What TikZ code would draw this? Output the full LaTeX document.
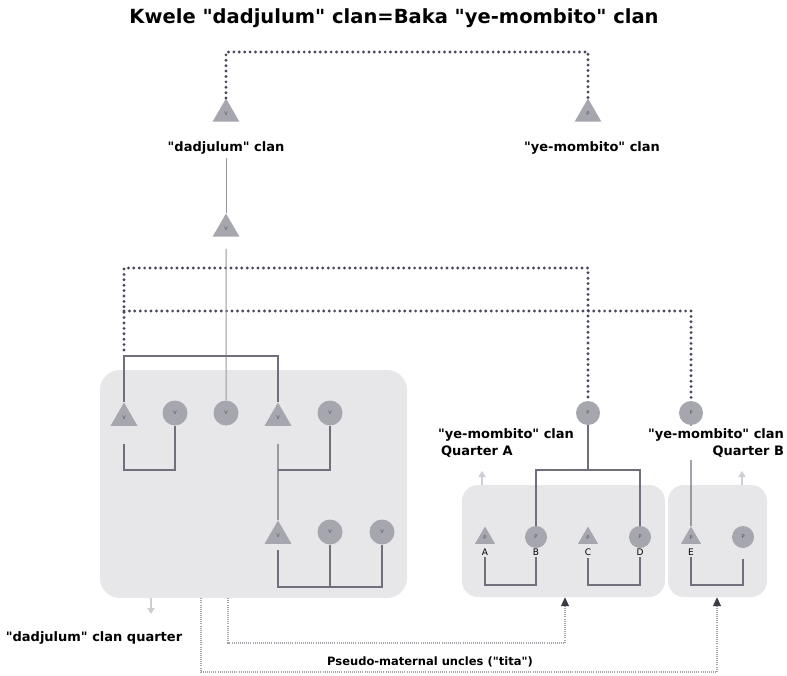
\documentclass[tikz,border=0pt]{standalone}
\usepackage{fontspec}
\setmainfont{DejaVu Sans}
\newfontfamily\labelfont{DejaVu Sans}
\usepackage{tikz}
\definecolor{boxgray}{RGB}{231, 231, 234}
\definecolor{nodegray}{RGB}{166, 166, 174}
\definecolor{linegray}{RGB}{112, 112, 124}
\definecolor{stemgray}{RGB}{150, 150, 160}
\definecolor{dotgray}{RGB}{72, 72, 92}
\definecolor{titagray}{RGB}{165, 165, 172}
\definecolor{ghost}{RGB}{205, 205, 212}
\definecolor{tipdark}{RGB}{60, 60, 70}
\definecolor{lettergray}{RGB}{80, 80, 90}
\usetikzlibrary{positioning}
\usetikzlibrary{shapes.geometric}
\usetikzlibrary{arrows.meta}

\begin{document}
\begin{tikzpicture}
		[x=1pt, y=-1pt, every node/.style={inner sep=0pt},
		 quarter/.style={fill=boxgray, rounded corners=20pt},
		 tri/.style={regular polygon, regular polygon sides=3, minimum size=31pt, fill=nodegray, text=lettergray, font=\labelfont\fontsize{5}{5}\selectfont},
		 ind/.style={circle, minimum size=25pt, fill=nodegray, text=lettergray, font=\labelfont\fontsize{5}{5}\selectfont},
		 lab/.style={fill=white, inner sep=3pt, font=\labelfont\fontsize{13}{17}\selectfont\bfseries},
		 letter/.style={inner sep=2pt, font=\labelfont\fontsize{9}{9}\selectfont},
		 kin/.style={line width=1.1pt, color=linegray},
		 stem/.style={line width=1pt, color=stemgray},
		 clanlink/.style={line width=3.2pt, color=dotgray, line cap=round, dash pattern=on 0pt off 5.4pt},
		 tita/.style={line width=1.2pt, color=titagray, dash pattern=on 1pt off 1.1pt, -{Triangle[width=8pt, length=9pt, color=tipdark]}},
		 ghostarrow/.style={line width=2pt, color=ghost, -{Triangle[width=7pt, length=6pt]}}]
		\useasboundingbox (0, 0) rectangle (787, 676);
		% levels
		\coordinate (ytop) at (0, 52);
		\coordinate (yup) at (0, 268);
		\coordinate (ylo) at (0, 311);
		\coordinate (yA) at (0, 356);
		\coordinate (yB) at (0, 470);
		\coordinate (yC) at (0, 587);
		\coordinate (ybot) at (0, 585);
		\coordinate (ldl) at (124, 350);
		% quarters
		\node (q1) [quarter, minimum width=307pt, minimum height=228pt] at (253.5, 484) {};
		\node (q2) [quarter, minimum width=203pt, minimum height=112pt, rounded corners=16pt] at (563.5, 541) {};
		\node (q3) [quarter, minimum width=99pt, minimum height=112pt, rounded corners=16pt] at (717.5, 541) {};
		\node (title) [font=\labelfont\fontsize{19.5}{22}\selectfont\bfseries] at (394, 18) {Kwele "dadjulum" clan=Baka "ye-mombito" clan};
		% clans
		\node (tv) [tri] at (226, 114) {V};
		\node (tp) [tri] at (588, 114) {P};
		\node (ldad) [lab] at (226, 148) {"dadjulum" clan};
		\node (lye) [lab] at (592, 148) {"ye-mombito" clan};
		\node (tv2) [tri] at (226, 229) {V};
		% dadjulum quarter
		\node (t1) [tri] at (124, 418) {V};
		\node (c1) [ind] at (175, 413) {V};
		\node (c2) [ind] at (226, 413) {V};
		\node (t2) [tri] at (278, 418) {V};
		\node (c3) [ind] at (330, 413) {V};
		\node (t3) [tri] at (278, 536) {V};
		\node (c4) [ind] at (330, 532) {V};
		\node (c5) [ind] at (382, 532) {V};
		% ye-mombito quarters
		\node (p1) [ind, minimum size=24pt] at (588, 413) {P};
		\node (p2) [ind, minimum size=24pt] at (691, 413) {P};
		\node (a) [tri, minimum size=23pt] at (485, 538) {P};
		\node (b) [ind, minimum size=22pt] at (536, 537) {P};
		\node (c) [tri, minimum size=23pt] at (588, 538) {P};
		\node (d) [ind, minimum size=22pt] at (640, 537) {P};
		\node (e) [tri, minimum size=23pt] at (691, 538) {P};
		\node (f) [ind, minimum size=22pt] at (743, 537) {P};
		\node (la) [letter] at (485, 552) {A};
		\node (lb) [letter] at (536, 552) {B};
		\node (lc) [letter] at (588, 552) {C};
		\node (ld) [letter] at (640, 552) {D};
		\node (le) [letter] at (691, 552) {E};
		% marriage links
		\draw [clanlink] (tv) -- (tv.north |- ytop) -| (tp);
		\draw [clanlink] (ldl) |- (yup -| p1) -- (p1);
		\draw [clanlink] (ldl |- ylo) -- (ylo -| p2) -- (p2);
		% descent
		\draw [stem] (ldad) -- (tv2);
		\draw [stem, shorten <=12pt] (tv2) -- (c2);
		\draw [kin] (t1) |- (yA -| t2) -- (t2);
		\draw [kin, shorten <=18pt] (t1) |- (yB -| c1) -- (c1);
		\draw [kin, shorten <=18pt] (t2) -- (t3);
		\draw [kin] (t2 |- yB) -| (c3);
		\draw [kin, shorten <=6pt] (t3) |- (yC -| c5) -- (c5);
		\draw [kin] (c4) -- (c4 |- yC);
		\draw [kin] (p1) -- (p1 |- yB);
		\draw [kin] (b) |- (yB -| d) -- (d);
		\draw [kin] (la) |- (ybot -| lb) -- (lb);
		\draw [kin] (lc) |- (ybot -| ld) -- (ld);
		\draw [kin, shorten >=11pt] (le) |- (ybot -| f) -- (f);
		\draw [kin] (e) -- (p2);
		% quarter labels
		\coordinate (ka) at (201, 672);
		\coordinate (kb) at (228, 643);
		\coordinate (kc) at (565, 0);
		\coordinate (kd) at (717, 0);
		\coordinate (qa) at (151, 614);
		\coordinate (qb) at (482, 471);
		\coordinate (qc) at (742, 471);
		\draw [ghostarrow] (q1.south -| qa) -- (qa);
		\draw [ghostarrow] (q2.north -| qb) -- (qb);
		\draw [ghostarrow] (q3.north -| qc) -- (qc);
		\node (lqa) [lab, align=left] at (506, 443) {"ye-mombito" clan\\\hspace{3pt}Quarter A};
		\node (lqb) [lab, align=right] at (716, 443) {"ye-mombito" clan\\Quarter B};
		\node (lqd) [lab] at (94, 638) {"dadjulum" clan quarter};
		% tita
		\draw [tita] (q1.south -| kb) -- (kb) -| (q2.south -| kc);
		\draw [tita] (q1.south -| ka) -- (ka) -| (q3.south -| kd);
		\node (ltita) [font=\labelfont\fontsize{11.5}{14}\selectfont\bfseries] at (430, 662) {Pseudo-maternal uncles ("tita")};
\end{tikzpicture}
\end{document}
